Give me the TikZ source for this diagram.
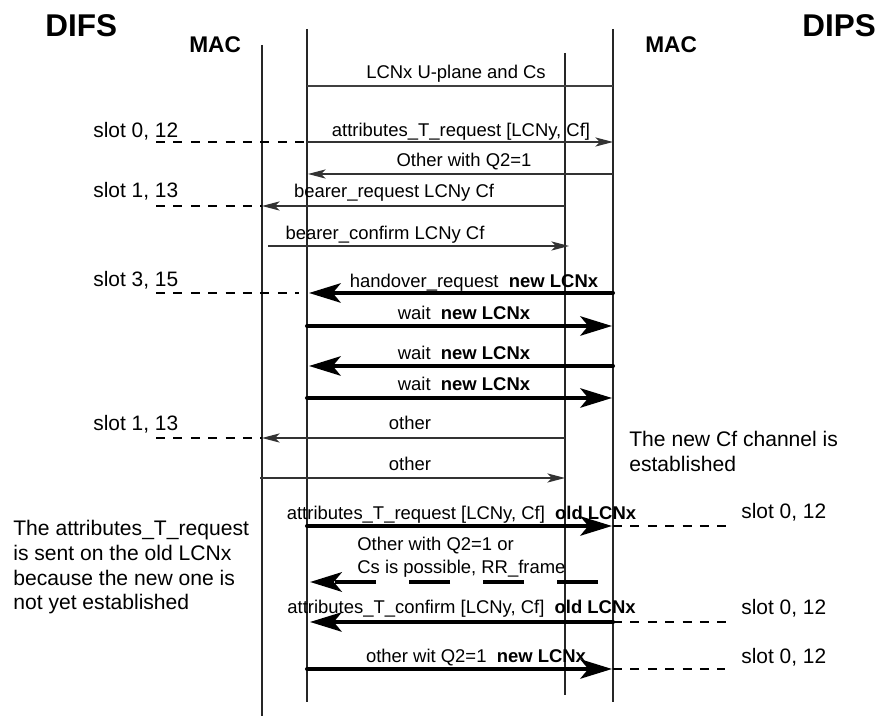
\documentclass[tikz,border=0pt]{standalone}
\usepackage{fontspec}
\setmainfont{Liberation Sans}
\usetikzlibrary{arrows.meta}

\begin{document}
\begin{tikzpicture}[x=0.2cm, y=-0.2cm,
    every node/.style={inner sep=0pt},
    life/.style={line width=0.6pt, black!85},
    msg/.style={line width=0.7pt, black!80, -{Stealth[length=10pt, width=5.2pt, inset=2.5pt]}},
    big/.style={line width=2.3pt, line cap=round, -{Stealth[length=18pt, width=11pt, inset=4.5pt]}},
    slotline/.style={line width=1.1pt, dash pattern=on 5.1pt off 4.8pt},
    lbl/.style={anchor=base, font=\fontsize{10.5}{13.1}\selectfont},
    slt/.style={anchor=base west, font=\fontsize{11.9}{14}\selectfont},
    note/.style={anchor=base west, align=left, font=\fontsize{12}{14.1}\selectfont},
    title/.style={anchor=base west, font=\bfseries\fontsize{17.9}{20}\selectfont},
    mac/.style={anchor=base west, font=\bfseries\fontsize{12.9}{15}\selectfont}]

    \useasboundingbox (0,0) rectangle (88.1,71.6);

    % Headers
    \node[title] (difs) at (4.5,3.7) {DIFS};
    \node[title] (dips) at (80.2,3.7) {DIPS};
    \node[mac] (macl) at (18.9,5.3) {MAC};
    \node[mac] (macr) at (64.5,5.3) {MAC};

    % Lifelines
    \foreach \x/\a/\b in {26.2/4.5/71.6, 30.7/2.9/70.2, 56.5/5.3/69.5, 61.3/2.9/70.2} {
        \draw[life] (\x,\a) -- (\x,\b);
    }

    % Old connection
    \draw[line width=0.7pt, black!75] (30.7,8.6) -- (61.3,8.6);
    \node[lbl] (uplane) at (45.6,7.9) {LCNx U-plane and Cs};

    \draw[slotline] (15.6,14.2) -- (30.7,14.2);
    \draw[msg] (30.7,14.2) -- (61.3,14.2);
    \node[lbl] (attreq) at (46.1,13.66) {attributes\_T\_request [LCNy, Cf]};

    \draw[msg] (61.3,17.4) -- (30.8,17.4);
    \node[lbl] (otherq) at (46.4,16.66) {Other with Q2=1};

    \draw[slotline] (15.6,20.6) -- (26.2,20.6);
    \draw[msg] (56.5,20.6) -- (26.2,20.6);
    \node[lbl] (bearreq) at (39.4,19.76) {bearer\_request LCNy Cf};

    \draw[msg] (26.8,24.6) -- (56.9,24.6);
    \node[lbl] (bearcnf) at (38.5,23.96) {bearer\_confirm LCNy Cf};

    % Handover
    \draw[slotline] (15.6,29.3) -- (29.9,29.3);
    \draw[big] (61.3,29.3) -- (30.9,29.3);
    \node[lbl] (horeq) at (47.4,28.76) {handover\_request\ \ \textbf{new LCNx}};

    \foreach \ya/\yb/\xs/\xe in {32.6/31.96/30.7/61.2, 36.6/35.96/61.3/30.9, 39.8/39.06/30.7/61.2} {
        \draw[big] (\xs,\ya) -- (\xe,\ya);
        \node[lbl] at (46.4,\yb) {wait\ \ \textbf{new LCNx}};
    }

    % New Cf
    \draw[slotline] (15.6,43.8) -- (26.2,43.8);
    \draw[msg] (56.5,43.8) -- (26.2,43.8);
    \node[lbl] (oth1) at (41.0,42.96) {other};

    \draw[msg] (26.0,47.8) -- (56.5,47.8);
    \node[lbl] (oth2) at (41.0,47.06) {other};

    % multi-line nodes: base is the last line
    \node[note] (cfnote) at (62.9,47.17) {The new Cf channel is\\established};

    % Old LCNx
    \draw[big] (30.7,52.6) -- (61.2,52.6);
    \draw[slotline] (61.3,52.6) -- (73.3,52.6);
    \node[lbl] (attold) at (46.15,51.96) {attributes\_T\_request [LCNy, Cf]\ \ \textbf{old LCNx}};

    \draw[big, line width=2.8pt, line cap=butt, dash pattern=on 23.3pt off 18.8pt] (59.8,58.2) -- (31.0,58.2);
    \node[lbl, anchor=base west, align=left] (rrnote) at (35.7,57.36) {Other with Q2=1 or\\Cs is possible, RR\_frame};

    \draw[big] (61.3,62.2) -- (31.0,62.2);
    \draw[slotline] (61.3,62.2) -- (73.3,62.2);
    \node[lbl] (attcnf) at (46.15,61.36) {attributes\_T\_confirm [LCNy, Cf]\ \ \textbf{old LCNx}};

    \draw[big] (30.7,66.9) -- (61.2,66.9);
    \draw[slotline] (61.3,66.9) -- (72.5,66.9);
    \node[lbl] (othwit) at (47.6,66.26) {other wit Q2=1\ \ \textbf{new LCNx}};

    \node[note] (oldnote) at (1.3,61.0) {The attributes\_T\_request\\is sent on the old LCNx\\because the new one is\\not yet established};

    % Slots
    \node[slt] (s1) at (9.3,13.75) {slot 0, 12};
    \node[slt] (s2) at (9.3,19.75) {slot 1, 13};
    \node[slt] (s3) at (9.3,28.65) {slot 3, 15};
    \node[slt] (s4) at (9.3,43.05) {slot 1, 13};
    \node[slt] (s5) at (74.1,51.9) {slot 0, 12};
    \node[slt] (s6) at (74.1,61.45) {slot 0, 12};
    \node[slt] (s7) at (74.1,66.35) {slot 0, 12};

\end{tikzpicture}
\end{document}
